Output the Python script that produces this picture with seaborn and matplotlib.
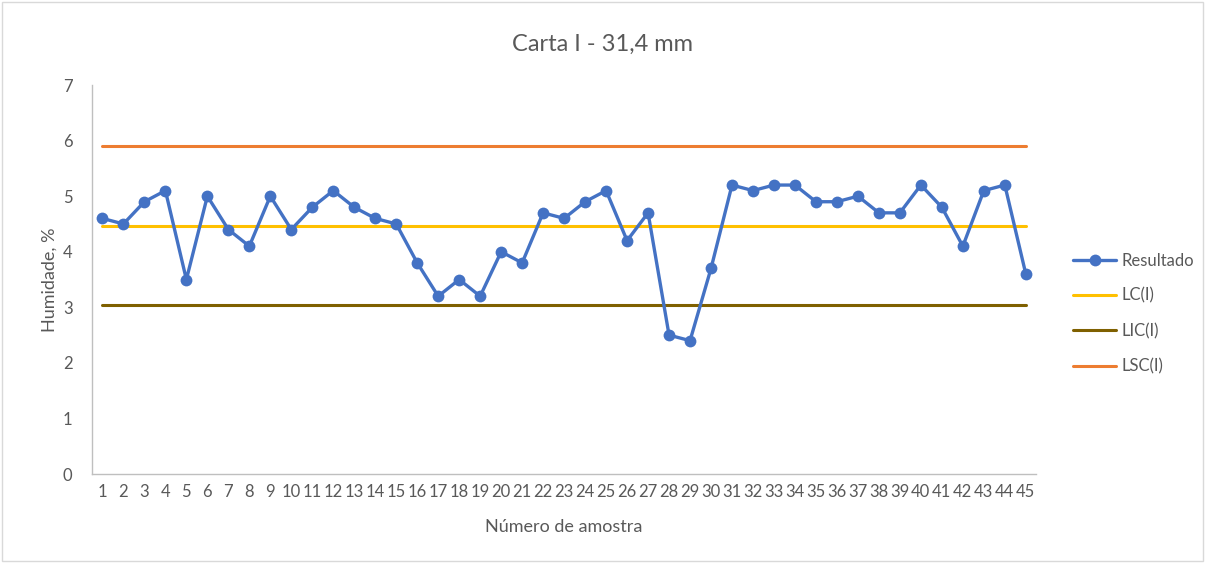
import matplotlib

matplotlib.use("Agg")
import matplotlib.pyplot as plt
import numpy as np
import pandas as pd
import seaborn as sns
from matplotlib.patches import Rectangle

amostra = list(range(1, 46))
resultado = [4.6, 4.5, 4.9, 5.1, 3.5, 5.0, 4.4, 4.1, 5.0, 4.4,
             4.8, 5.1, 4.8, 4.6, 4.5, 3.8, 3.2, 3.5, 3.2, 4.0,
             3.8, 4.7, 4.6, 4.9, 5.1, 4.2, 4.7, 2.5, 2.4, 3.7,
             5.2, 5.1, 5.2, 5.2, 4.9, 4.9, 5.0, 4.7, 4.7, 5.2,
             4.8, 4.1, 5.1, 5.2, 3.6]
lc = 4.47
lic = 3.04
lsc = 5.90

grey = "#595959"
sns.set_theme(style="white")
plt.rcParams["font.family"] = ["Lato", "DejaVu Sans"]

df = pd.DataFrame({"amostra": amostra, "Resultado": resultado})
limits = pd.DataFrame({
    "amostra": amostra,
    "LC(I)": [lc] * len(amostra),
    "LIC(I)": [lic] * len(amostra),
    "LSC(I)": [lsc] * len(amostra),
})

fig = plt.figure(figsize=(12.05, 5.63), dpi=100)
ax = fig.add_axes([0.0763, 0.158, 0.7837, 0.691])

sns.lineplot(data=df, x="amostra", y="Resultado", ax=ax, color="#4472C4",
             linewidth=2.4, marker="o", markersize=8.5, markeredgewidth=0,
             label="Resultado", zorder=5)
for col, colour in [("LC(I)", "#FFC000"), ("LIC(I)", "#7F6000"), ("LSC(I)", "#ED7D31")]:
    sns.lineplot(data=limits, x="amostra", y=col, ax=ax, color=colour,
                 linewidth=2.2, label=col, zorder=3)

ax.set_xlim(0.5, 45.5)
ax.set_ylim(0, 7)
ax.set_xticks(amostra)
ax.set_xticklabels([str(a) for a in amostra])
ax.set_yticks(np.arange(0, 8, 1))
ax.tick_params(axis="x", colors=grey, labelsize=12, length=0, pad=7)
ax.tick_params(axis="y", colors=grey, labelsize=12, length=0, pad=14)
ax.set_xlabel("Número de amostra", color=grey, fontsize=13, labelpad=14)
ax.set_ylabel("Humidade, %", color=grey, fontsize=13, labelpad=4)
for side in ["top", "right"]:
    ax.spines[side].set_visible(False)
for side in ["left", "bottom"]:
    ax.spines[side].set_color("#bfbfbf")
    ax.spines[side].set_linewidth(1)

ax.get_legend().remove()
handles, labels = ax.get_legend_handles_labels()
leg = fig.legend(handles, labels, loc="upper left", bbox_to_anchor=(0.878, 0.578),
                 frameon=False, fontsize=12, labelspacing=1.15, handlelength=2.6,
                 handletextpad=0.3)
for t in leg.get_texts():
    t.set_color(grey)

fig.suptitle("Carta I - 31,4 mm", color=grey, fontsize=17, y=0.94)
fig.patches.append(Rectangle((0.002, 0.003), 0.996, 0.994, transform=fig.transFigure,
                             fill=False, edgecolor="#d9d9d9", linewidth=1))

fig.savefig("out.png", dpi=100)
plt.close(fig)
